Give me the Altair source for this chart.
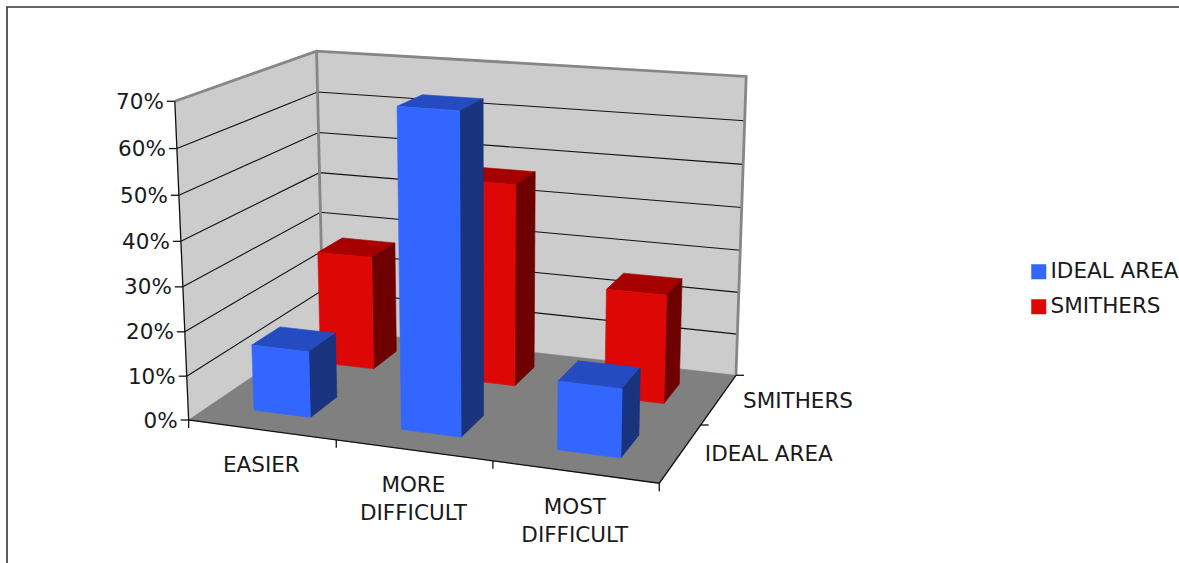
import altair as alt
import numpy as np

# Share of answers per run difficulty and area (percent)
categories = ["EASIER", "MORE\nDIFFICULT", "MOST\nDIFFICULT"]
series = ["IDEAL AREA", "SMITHERS"]
ideal_area = [15, 70, 15]
smithers = [27, 47, 25]
value_ticks = [0, 10, 20, 30, 40, 50, 60, 70]

W, H = 1179, 563
FONT = "DejaVu Sans"
FONT_SIZE = 21.5

# Perspective camera for the box: (category, value, depth) -> pixel, fitted on the box's edges
box_points = [
    ((0, 0, 0), (189, 420)), ((1, 0, 0), (336, 440)), ((2, 0, 0), (492, 461)), ((3, 0, 0), (659, 483)),
    ((3, 0, 1), (702, 425)), ((3, 0, 2), (735, 375)), ((0, 0, 2), (323, 329)),
    ((0, 70, 0), (175, 101)), ((0, 70, 2), (316, 51)), ((3, 70, 2), (746, 77)),
    ((0, 30, 0), (183, 287)), ((0, 30, 2), (321, 212)), ((3, 30, 2), (741, 250)),
]


def fit_camera(points):
    rows = []
    for (u, v, w), (x, y) in points:
        p = [u / 3, v / 70, w / 2, 1]
        x, y = x / 1000, y / 1000
        rows.append(p + [0, 0, 0, 0] + [-x * c for c in p])
        rows.append([0, 0, 0, 0] + p + [-y * c for c in p])
    return np.linalg.svd(np.array(rows))[2][-1].reshape(3, 4)


CAMERA = fit_camera(box_points)


def project(u, v, w):
    px, py, pz = CAMERA @ np.array([u / 3, v / 70, w / 2, 1])
    return [float(px / pz * 1000), float(py / pz * 1000)]


def polygon(corners, fill):
    ring = [project(*c) for c in corners]
    return {
        "type": "Feature",
        "geometry": {"type": "Polygon", "coordinates": [ring + ring[:1]]},
        "fill": fill,
        "properties": {},
    }


def polyline(corners, raw=False):
    pts = corners if raw else [project(*c) for c in corners]
    return {"type": "Feature", "geometry": {"type": "LineString", "coordinates": pts}, "properties": {}}


def bar_faces(i, s, value, front, top, side):
    u0, u1 = i + 0.3, i + 0.69
    w0, w1 = s + 0.3, s + 0.7
    return [
        polygon([(u0, value, w0), (u1, value, w0), (u1, value, w1), (u0, value, w1)], top),
        polygon([(u1, 0, w0), (u1, 0, w1), (u1, value, w1), (u1, value, w0)], side),
        polygon([(u0, 0, w0), (u1, 0, w0), (u1, value, w0), (u0, value, w0)], front),
    ]


VIEW = dict(type="identity", scale=1, translate=[0, 0])


def shapes(features):
    return (
        alt.Chart(alt.Data(values=features))
        .mark_geoshape(strokeJoin="round", strokeWidth=0.6)
        .encode(
            fill=alt.Fill("fill:N", scale=None, legend=None),
            stroke=alt.Stroke("fill:N", scale=None, legend=None),
        )
        .project(**VIEW)
    )


def lines(features, color, width):
    return (
        alt.Chart(alt.Data(values=features))
        .mark_geoshape(filled=False, stroke=color, strokeWidth=width, strokeCap="butt")
        .project(**VIEW)
    )


def labels(rows, **mark):
    return (
        alt.Chart(alt.Data(values=rows))
        .mark_text(font=FONT, fontSize=FONT_SIZE, color="#1a1a1a", **mark)
        .encode(longitude="lon:Q", latitude="lat:Q", text="label:N")
        .project(**VIEW)
    )


# Box walls and floor
walls = shapes([
    polygon([(0, 0, 0), (0, 0, 2), (0, 70, 2), (0, 70, 0)], "#cccccc"),
    polygon([(0, 0, 2), (3, 0, 2), (3, 70, 2), (0, 70, 2)], "#cccccc"),
    polygon([(0, 0, 0), (3, 0, 0), (3, 0, 2), (0, 0, 2)], "#808080"),
])

grid = lines(
    [polyline([(0, t, 0), (0, t, 2), (3, t, 2)]) for t in value_ticks[1:-1]], "#111111", 1.1
)
wall_edges = lines(
    [polyline([(0, 70, 0), (0, 70, 2), (3, 70, 2), (3, 0, 2)]), polyline([(0, 70, 2), (0, 0, 2)])],
    "#868686",
    2.8,
)

# Axis lines and ticks
axis_lines = [polyline([(0, 70, 0), (0, 0, 0), (3, 0, 0), (3, 0, 2)])]
for t in value_ticks:
    x, y = project(0, t, 0)
    axis_lines.append(polyline([[x - 8, y], [x, y]], raw=True))
for i in range(4):
    x, y = project(i, 0, 0)
    axis_lines.append(polyline([[x, y], [x, y + 8]], raw=True))
for s in (1, 2):
    x, y = project(3, 0, s)
    axis_lines.append(polyline([[x, y], [x + 8, y]], raw=True))
axes = lines(axis_lines, "#111111", 1.3)

# Bars, the far row first so the near row covers it
red_faces = [f for i, v in enumerate(smithers) for f in bar_faces(i, 1, v, "#dd0806", "#a60000", "#6f0000")]
blue_faces = [f for i, v in enumerate(ideal_area) for f in bar_faces(i, 0, v, "#3366ff", "#244cc0", "#19337f")]
red_bars = shapes(red_faces)
blue_bars = shapes(blue_faces)

# Axis text
value_rows = []
for t in value_ticks:
    x, y = project(0, t, 0)
    value_rows.append({"lon": x - 11, "lat": y + 1.5, "label": f"{t}%"})
value_text = labels(value_rows, align="right", baseline="middle")

category_rows = []
for i, name in enumerate(categories):
    x, y = project(i + 0.5, 0, 0)
    category_rows.append({"lon": x, "lat": y + 25, "label": name})
category_text = labels(category_rows, align="center", baseline="top", lineBreak="\n", lineHeight=28)

depth_rows = []
for s, name in enumerate(series):
    x, y = project(3, 0, s + 0.5)
    depth_rows.append({"lon": x + 24, "lat": y + 2.5, "label": name})
depth_text = labels(depth_rows, align="left", baseline="middle")

# Outer frame of the chart area
frame = lines([polyline([[7, H + 5], [7, 7], [W + 5, 7]], raw=True)], "#333333", 1.6)

# Legend carried by an invisible layer
legend_layer = (
    alt.Chart(alt.Data(values=[{"series": s} for s in series]))
    .mark_square(opacity=0)
    .encode(
        color=alt.Color(
            "series:N",
            sort=series,
            scale=alt.Scale(domain=series, range=["#3366ff", "#dd0806"]),
            legend=alt.Legend(
                title=None,
                orient="none",
                legendX=1028,
                legendY=261,
                symbolType="square",
                symbolSize=225,
                symbolOpacity=1,
                symbolStrokeWidth=0,
                labelFont=FONT,
                labelFontSize=FONT_SIZE,
                labelColor="#1a1a1a",
                labelOffset=1,
                rowPadding=12,
                padding=0,
                labelLimit=300,
            ),
        ),
    )
)

chart = (
    alt.layer(
        walls, grid, wall_edges, red_bars, blue_bars, axes,
        value_text, category_text, depth_text, frame, legend_layer,
    )
    .properties(width=W, height=H, padding=0, autosize=alt.AutoSizeParams(type="none"), background="white")
    .configure_view(stroke=None)
)

chart.save("out.html", embed_options={"renderer": "svg", "actions": False})
